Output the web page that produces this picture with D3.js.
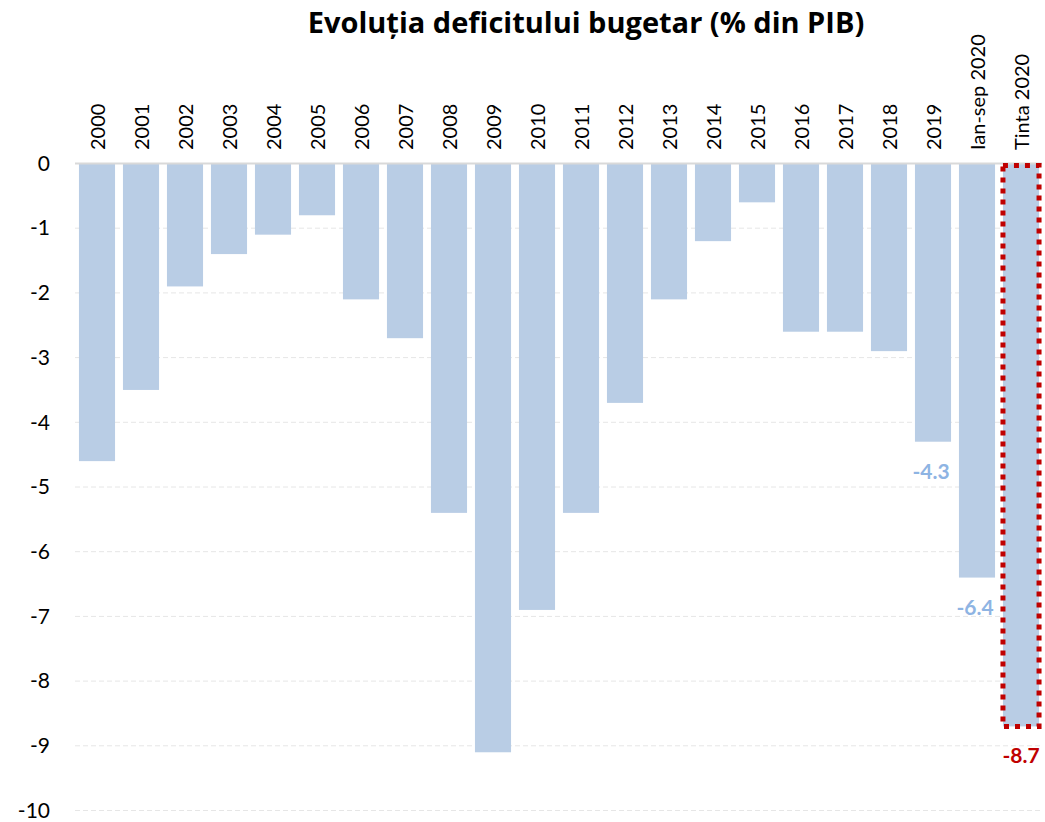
<!DOCTYPE html>
<html>
<head>
<meta charset="utf-8">
<script src="https://cdn.jsdelivr.net/npm/d3@7"></script>
<style>
  body { margin: 0; background: #fff; }
  text { font-family: Lato, "Open Sans", sans-serif; }
</style>
</head>
<body>
<script>
var categories = ["2000", "2001", "2002", "2003", "2004", "2005", "2006", "2007", "2008", "2009",
  "2010", "2011", "2012", "2013", "2014", "2015", "2016", "2017", "2018", "2019",
  "Ian-sep 2020", "Tinta 2020"];
var values = [-4.6, -3.5, -1.9, -1.4, -1.1, -0.8, -2.1, -2.7, -5.4, -9.1,
  -6.9, -5.4, -3.7, -2.1, -1.2, -0.6, -2.6, -2.6, -2.9, -4.3,
  -6.4, -8.7];
var yTicks = [0, -1, -2, -3, -4, -5, -6, -7, -8, -9, -10];
// which bars get a value label
var labelled = ["2019", "Ian-sep 2020", "Tinta 2020"];
var highlighted = "Tinta 2020";

var width = 1045, height = 822;
var margin = { top: 163.5, left: 75, right: 2 };

// plain hyphen instead of d3's unicode minus
var fmt = d3.formatLocale({ decimal: ".", thousands: ",", grouping: [3], currency: ["", ""], minus: "-" });

var svg = d3.select("body").append("svg")
  .attr("width", width)
  .attr("height", height);

var x = d3.scaleBand()
  .domain(categories)
  .range([margin.left, width - margin.right])
  .paddingInner(0.18)
  .paddingOuter(0.09);

var y = d3.scaleLinear()
  .domain([0, -10])
  .range([margin.top, 810.5]);

// title
svg.append("text")
  .attr("x", 586)
  .attr("y", 33)
  .attr("text-anchor", "middle")
  .attr("font-size", 29)
  .attr("font-weight", "bold")
  .style("font-family", "'Open Sans', sans-serif")
  .attr("fill", "#000")
  .text("Evoluția deficitului bugetar (% din PIB)");

// gridlines
svg.append("g")
  .selectAll("line")
  .data(yTicks.filter(function (d) { return d !== 0; }))
  .enter()
  .append("line")
  .attr("x1", margin.left)
  .attr("x2", width - 5)
  .attr("y1", function (d) { return y(d); })
  .attr("y2", function (d) { return y(d); })
  .attr("stroke", "#e6e6e6")
  .attr("stroke-width", 1)
  .attr("stroke-dasharray", "5,3");

// y tick labels
var yAxis = d3.axisLeft(y).tickValues(yTicks).tickSize(0).tickPadding(0)
  .tickFormat(fmt.format("d"));
var yg = svg.append("g")
  .attr("transform", "translate(50,0)")
  .call(yAxis);
yg.select(".domain").remove();
yg.selectAll("text")
  .attr("font-size", 21)
  .attr("fill", "#000")
  .style("font-family", "Lato, 'Open Sans', sans-serif");

// bars
svg.append("g")
  .selectAll("rect")
  .data(categories)
  .enter()
  .append("rect")
  .attr("x", function (d) { return x(d); })
  .attr("width", x.bandwidth())
  .attr("y", y(0))
  .attr("height", function (d, i) { return y(values[i]) - y(0); })
  .attr("fill", "#b9cde5");

// zero line
svg.append("line")
  .attr("x1", margin.left)
  .attr("x2", width - 3)
  .attr("y1", y(0))
  .attr("y2", y(0))
  .attr("stroke", "#d9d9d9")
  .attr("stroke-width", 2);

// highlight box around target bar
var hi = categories.indexOf(highlighted);
svg.append("rect")
  .attr("x", x(highlighted))
  .attr("width", x.bandwidth())
  .attr("y", y(0) + 2)
  .attr("height", y(values[hi]) - y(0) - 2)
  .attr("fill", "none")
  .attr("stroke", "#c00000")
  .attr("stroke-width", 5)
  .attr("stroke-dasharray", "5,6");

// category labels (rotated)
svg.append("g")
  .selectAll("text")
  .data(categories)
  .enter()
  .append("text")
  .attr("transform", function (d) {
    return "translate(" + (x(d) + x.bandwidth() / 2 + 8) + ",150) rotate(-90)";
  })
  .attr("text-anchor", "start")
  .attr("font-size", 20)
  .attr("fill", "#000")
  .text(function (d) { return d; });

// value labels
svg.append("g")
  .selectAll("text")
  .data(labelled)
  .enter()
  .append("text")
  .attr("x", function (d) { return x(d) + x.bandwidth() / 2 - (d === highlighted ? 0 : 2); })
  .attr("y", function (d) { return y(values[categories.indexOf(d)]) + 37; })
  .attr("text-anchor", "middle")
  .attr("font-size", 21)
  .attr("font-weight", "bold")
  .attr("fill", function (d) { return d === highlighted ? "#c00000" : "#8eb4e3"; })
  .text(function (d) { return fmt.format(".1f")(values[categories.indexOf(d)]); });
</script>
</body>
</html>
